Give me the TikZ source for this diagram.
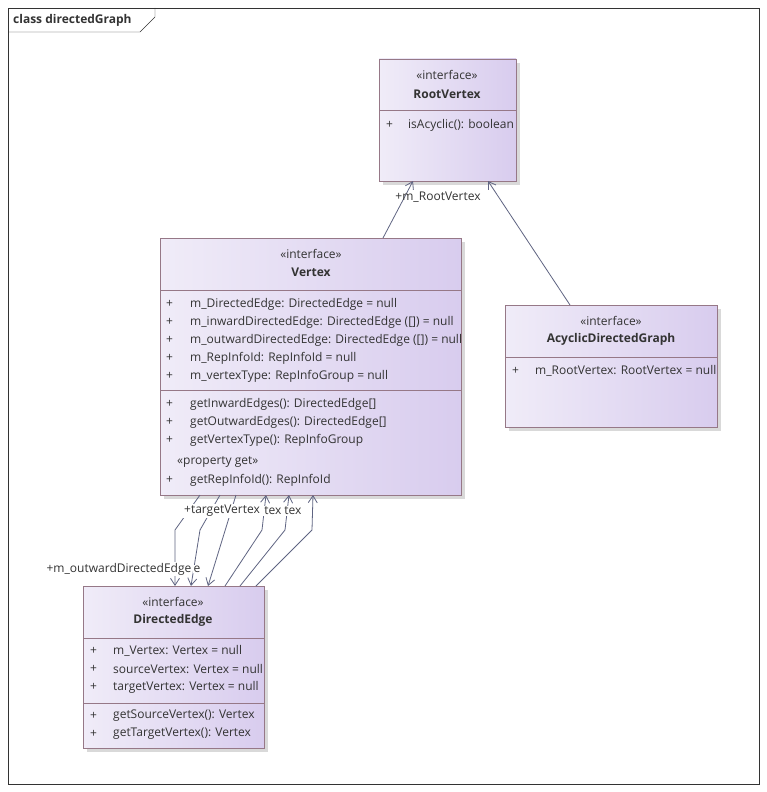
\documentclass[tikz,border=0pt]{standalone}
\usepackage{fontspec}
\setmainfont{Open Sans}
\usetikzlibrary{arrows.meta}
\begin{document}
\begin{tikzpicture}[x=1pt,y=-1pt,
 cls/.style={draw=none,left color={rgb,255:red,240;green,236;blue,248},right color={rgb,255:red,216;green,204;blue,238}},
 bd/.style={draw={rgb,255:red,150;green,120;blue,135},line width=0.9pt},
 t/.style={font=\fontsize{12}{14}\selectfont,inner sep=0pt,text=black!80},
 tb/.style={t,font=\fontsize{12}{14}\selectfont\bfseries},
 con/.style={draw={rgb,255:red,95;green,100;blue,130},line width=0.8pt},
 arr/.style={con,-{Straight Barb[length=7pt,width=9pt]}}]
\useasboundingbox (0,0) rectangle (767,792);
\fill[white] (0,0) rectangle (767,792);
\draw[black!80] (8,8) rectangle (759,784);
\draw[black!80] (8,32) -- (140,32) -- (155,17) -- (155,8);
\node[tb,anchor=west] (title) at (13,20) {class directedGraph};
% boxes
\newcommand{\umlbox}[5]{%
 \fill[black!15] (#1+4,#2+4) rectangle (#3+4,#4+4);
 \fill[cls] (#1,#2) rectangle (#3,#4);
 \draw[bd] (#1,#2) rectangle (#3,#4);
 \node[inner sep=0,outer sep=0,minimum width=#3-#1,minimum height=#4-#2] (#5) at ({(#1+#3)/2},{(#2+#4)/2}) {};}
\umlbox{379}{59}{516}{181}{root}
\draw[bd] (379,110)--(516,110);
\node[t] (r1) at (447,75) {«interface»};
\node[tb] (r2) at (447,94) {RootVertex};
\node[t,anchor=west] (r3) at (386,125) {+};
\node[t,anchor=west] (r4) at (408,125) {isAcyclic(): boolean};

\umlbox{160}{238}{461}{495}{vtx}
\draw[bd] (160,290)--(461,290);
\draw[bd] (160,390)--(461,390);
\node[t] (v1) at (311,254) {«interface»};
\node[tb] (v2) at (311,272) {Vertex};
\foreach \y/\s [count=\i] in {304/{m\_DirectedEdge: DirectedEdge = null},322/{m\_inwardDirectedEdge: DirectedEdge ([]) = null},340/{m\_outwardDirectedEdge: DirectedEdge ([]) = null},358/{m\_RepInfoId: RepInfoId = null},376/{m\_vertexType: RepInfoGroup = null},404/{getInwardEdges(): DirectedEdge[]},422/{getOutwardEdges(): DirectedEdge[]},440/{getVertexType(): RepInfoGroup},480/{getRepInfoId(): RepInfoId}}{
 \node[t,anchor=west] (vp\i) at (166,\y) {+};
 \node[t,anchor=west] (vm\i) at (190,\y) {\s};}
\node[t,anchor=west] (vpg) at (177,462) {«property get»};

\umlbox{505}{305}{717}{427}{acy}
\draw[bd] (505,357)--(717,357);
\node[t] (a1) at (611,321) {«interface»};
\node[tb] (a2) at (611,339) {AcyclicDirectedGraph};
\node[t,anchor=west] (a3) at (512,371) {+};
\node[t,anchor=west] (a4) at (535,371) {m\_RootVertex: RootVertex = null};

\umlbox{83}{586}{264}{748}{de}
\draw[bd] (83,638)--(264,638);
\draw[bd] (83,703)--(264,703);
\node[t] (d1) at (173,602) {«interface»};
\node[tb] (d2) at (173,620) {DirectedEdge};
\foreach \y/\s [count=\i] in {651/{m\_Vertex: Vertex = null},669/{sourceVertex: Vertex = null},687/{targetVertex: Vertex = null},716/{getSourceVertex(): Vertex},734/{getTargetVertex(): Vertex}}{
 \node[t,anchor=west] (dp\i) at (90,\y) {+};
 \node[t,anchor=west] (dm\i) at (113,\y) {\s};}

% connectors
\draw[arr] (vtx.north -| 383,0) -- (root.south -| 413,0);
\node[t] (lr) at (438,197) {+m\_RootVertex};
\draw[arr] (acy.north -| 570,0) -- (root.south -| 488,0);

\draw[arr] (vtx.south -| 200,0) -- (175,530) -- (de.north -| 175,0);
\draw[arr] (vtx.south -| 220,0) -- (200,530) -- (de.north -| 191,0);
\draw[arr] (vtx.south -| 236,0) -- (de.north -| 208,0);
\draw[arr] (de.north -| 225,0) -- (262,530) -- (vtx.south -| 266,0);
\draw[arr] (de.north -| 240,0) -- (285,530) -- (vtx.south -| 289,0);
\draw[arr] (de.north -| 256,0) -- (312,530) -- (vtx.south -| 313,0);
\node[t,fill=white,inner sep=1pt] (l1) at (222,511) {+targetVertex};
\node[t,fill=white,inner sep=1pt] (l2) at (273,511) {tex};
\node[t,fill=white,inner sep=1pt] (l3) at (293,511) {tex};
\node[t,fill=white,inner sep=1pt] (l4) at (119,569) {+m\_outwardDirectedEdge};
\node[t,fill=white,inner sep=1pt] (l5) at (197,569) {e};
\end{tikzpicture}
\end{document}
